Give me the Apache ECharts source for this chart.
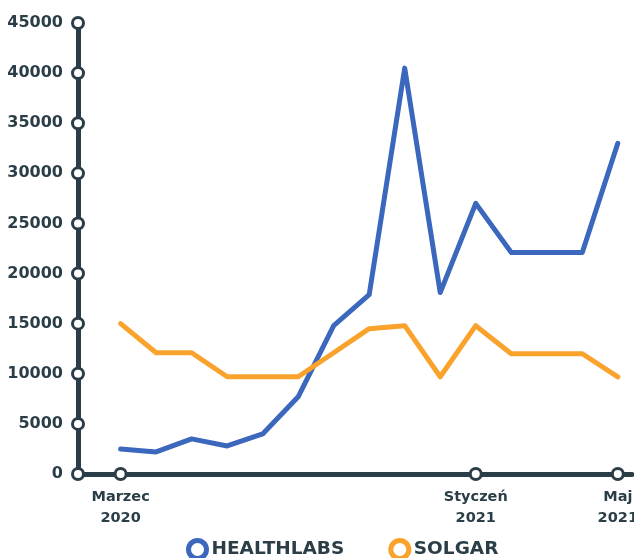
<!DOCTYPE html>
<html>
<head>
<meta charset="utf-8">
<script src="https://cdn.jsdelivr.net/npm/echarts@6/dist/echarts.min.js"></script>
<style>
  html, body { margin: 0; padding: 0; background: #fff; }
  #main { width: 634px; height: 558px; }
</style>
</head>
<body>
<div id="main"></div>
<script>
// months Mar 2020 .. May 2021
const months = ['Marzec\n2020', 'Kwiecień\n2020', 'Maj\n2020', 'Czerwiec\n2020', 'Lipiec\n2020',
  'Sierpień\n2020', 'Wrzesień\n2020', 'Październik\n2020', 'Listopad\n2020', 'Grudzień\n2020',
  'Styczeń\n2021', 'Luty\n2021', 'Marzec\n2021', 'Kwiecień\n2021', 'Maj\n2021'];
const labelled = [0, 10, 14];
const healthlabs = [2500, 2200, 3500, 2800, 4000, 7700, 14800, 17900, 40500, 18100, 27000, 22100, 22100, 22100, 33000];
const solgar = [15000, 12100, 12100, 9700, 9700, 9700, 12100, 14500, 14800, 9700, 14800, 12000, 12000, 12000, 9700];
const yTicks = [0, 5000, 10000, 15000, 20000, 25000, 30000, 35000, 40000, 45000];

const dark = '#2b3e48';
const blue = '#3b67bd';
const orange = '#f9a22c';
const font = 'DejaVu Sans';
const xMin = -1.2;

const chart = echarts.init(document.getElementById('main'));

// white rings on the axes
const dots = [];
labelled.forEach(i => dots.push([i, 0]));
yTicks.forEach(v => dots.push([xMin, v]));

chart.setOption({
  animation: false,
  grid: { left: 78, right: 2, top: 23, bottom: 84, outerBoundsMode: 'none' },
  legend: {
    data: ['HEALTHLABS', 'SOLGAR'],
    bottom: -8,
    left: 181,
    itemGap: 44,
    itemWidth: 18,
    itemHeight: 18,
    icon: 'circle',
    itemStyle: { color: '#fff', borderWidth: 5 },
    textStyle: { color: dark, fontFamily: font, fontWeight: 'bold', fontSize: 18.5 }
  },
  xAxis: {
    type: 'value',
    min: xMin,
    max: 14.4,
    splitLine: { show: false },
    axisTick: { show: false },
    axisLine: { onZero: false, lineStyle: { color: dark, width: 5 } },
    axisLabel: {
      customValues: labelled,
      formatter: v => months[Math.round(v)],
      color: dark,
      fontFamily: font,
      fontWeight: 'bold',
      fontSize: 14.5,
      lineHeight: 21,
      margin: 13
    }
  },
  yAxis: {
    type: 'value',
    min: 0,
    max: 45000,
    interval: 5000,
    splitLine: { show: false },
    axisTick: { show: false },
    axisLine: { show: true, onZero: false, lineStyle: { color: dark, width: 5 } },
    axisLabel: {
      formatter: v => String(v),
      color: dark, fontFamily: font, fontWeight: 'bold', fontSize: 16, margin: 15
    }
  },
  series: [
    {
      name: 'HEALTHLABS',
      type: 'line',
      data: healthlabs.map((v, i) => [i, v]),
      showSymbol: false,
      lineStyle: { color: blue, width: 5, join: 'round', cap: 'round' },
      itemStyle: { color: '#fff', borderColor: blue, borderWidth: 5 }
    },
    {
      name: 'SOLGAR',
      type: 'line',
      data: solgar.map((v, i) => [i, v]),
      showSymbol: false,
      lineStyle: { color: orange, width: 5, join: 'round', cap: 'round' },
      itemStyle: { color: '#fff', borderColor: orange, borderWidth: 5 }
    },
    {
      type: 'scatter',
      data: dots,
      symbol: 'circle',
      symbolSize: 11,
      clip: false,
      z: 5,
      silent: true,
      itemStyle: { color: '#fff', opacity: 1, borderColor: dark, borderWidth: 3 }
    }
  ]
});
</script>
</body>
</html>
